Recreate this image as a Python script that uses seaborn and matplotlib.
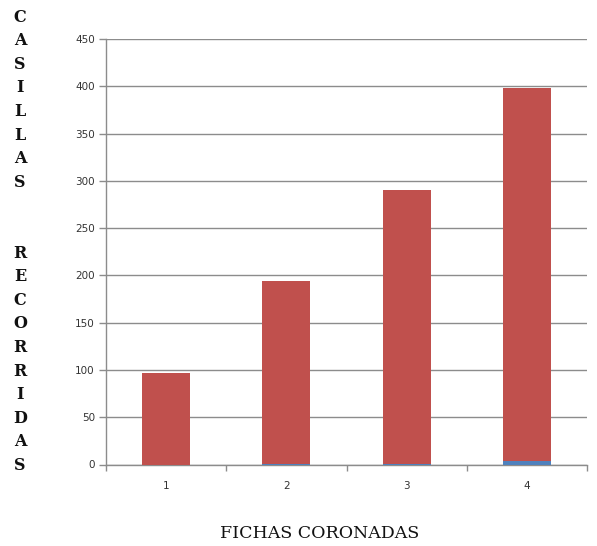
import matplotlib
matplotlib.use("Agg")
import matplotlib.pyplot as plt
import seaborn as sns
import pandas as pd
import numpy as np

categories = ["1", "2", "3", "4"]
blue_values = [0, 1, 1, 4]
red_values = [97, 193, 289, 394]
y_ticks = [0, 50, 100, 150, 200, 250, 300, 350, 400, 450]
y_title = "CASILLAS  RECORRIDAS"
x_title = "FICHAS CORONADAS"

sns.set_theme(style="white")
plt.rcParams['font.family'] = ['DejaVu Sans']

df = pd.DataFrame({
    "cat": categories,
    "blue": blue_values,
    "red": red_values,
})
df["total"] = df["blue"] + df["red"]

fig = plt.figure(figsize=(5.97, 5.46), dpi=100)
ax = fig.add_axes([106/597, 1 - 464.5/546, 481/597, (464.5 - 39)/546])

sns.barplot(data=df, x="cat", y="total", color="#C0504D", width=0.4,
            saturation=1, ax=ax, zorder=3, linewidth=0)
sns.barplot(data=df, x="cat", y="blue", color="#4F81BD", width=0.4,
            saturation=1, ax=ax, zorder=4, linewidth=0)

ax.set_ylim(0, 450)
ax.set_xlim(-0.5, 3.5)
ax.set_yticks(y_ticks)
ax.set_yticklabels([str(v) for v in y_ticks])
ax.yaxis.grid(True, color="#8C8C8C", linewidth=1.0, zorder=0)
ax.set_axisbelow(True)
for s in ["top", "right"]:
    ax.spines[s].set_visible(False)
for s in ["left", "bottom"]:
    ax.spines[s].set_color("#8C8C8C")
    ax.spines[s].set_linewidth(1.0)

ax.tick_params(axis="y", which="major", direction="out", length=5, width=1,
               color="#8C8C8C", labelsize=7.5, labelcolor="#333333", pad=3, left=True)
ax.set_xticks([-0.5, 0.5, 1.5, 2.5, 3.5], minor=True)
ax.tick_params(axis="x", which="minor", direction="out", length=4, width=1,
               color="#8C8C8C", bottom=True)
ax.tick_params(axis="x", which="major", length=0, labelsize=7.5,
               labelcolor="#333333", pad=12)
ax.set_xlabel("")
ax.set_ylabel("")

# vertical letter-stacked y title
top_px = 17
step_px = 23.6
for i, ch in enumerate(y_title):
    if ch.strip():
        fig.text(20/597, 1 - (top_px + i*step_px)/546, ch, ha="center", va="center",
                 fontsize=11.5, fontweight="bold", family=["DejaVu Serif"],
                 color="#111111")

fig.text(320/597, 1 - 533/546, x_title, ha="center", va="center",
         fontsize=12.5, family=["DejaVu Serif"], color="#111111")

fig.savefig("out.png", dpi=100)
